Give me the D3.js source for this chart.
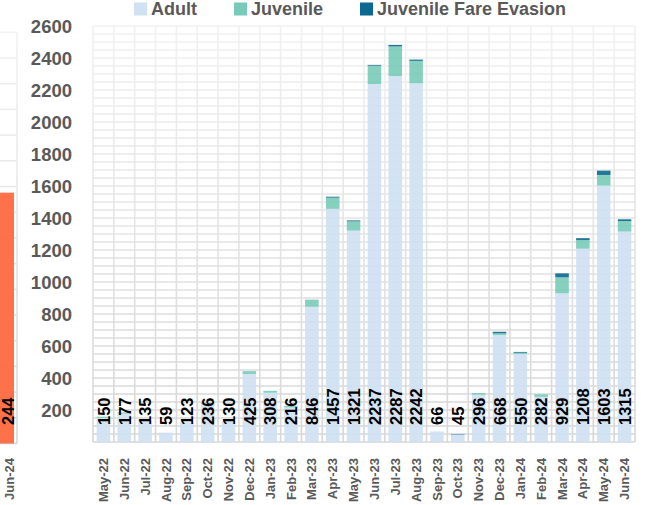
<!DOCTYPE html>
<html><head><meta charset="utf-8">
<script src="https://cdn.jsdelivr.net/npm/d3@7"></script>
<style>
html,body{margin:0;padding:0;background:#fff;}
svg{display:block;font-family:"Liberation Sans",Arial,sans-serif;}
</style></head>
<body>
<svg id="chart" width="646" height="505"></svg>
<script>
// ---- data ----
const categories = ["May-22","Jun-22","Jul-22","Aug-22","Sep-22","Oct-22","Nov-22","Dec-22","Jan-23","Feb-23","Mar-23","Apr-23","May-23","Jun-23","Jul-23","Aug-23","Sep-23","Oct-23","Nov-23","Dec-23","Jan-24","Feb-24","Mar-24","Apr-24","May-24","Jun-24"];
const adult = [150,177,135,59,123,236,130,425,308,216,846,1457,1321,2237,2287,2242,66,45,296,668,550,282,929,1208,1603,1315];
const juvenile = [8,8,0,0,0,10,0,18,12,10,44,70,58,115,185,140,0,3,10,11,8,16,100,54,66,66];
const fareEvasion = [0,0,0,0,0,0,0,0,0,0,0,6,6,5,10,8,0,2,0,10,5,0,25,12,27,11];
const seriesNames = ["Adult","Juvenile","Juvenile Fare Evasion"];
const yTickValues = [200,400,600,800,1000,1200,1400,1600,1800,2000,2200,2400,2600];
// partial neighbouring chart at left edge
const leftCategories = ["Jun-24"];
const leftValues = [244];

// ---- styles ----
const colors = ["#cfe1f2","#79cbb9","#0b6890"];
const svg = d3.select("#chart");

const rows = categories.map((c,i)=>({cat:c, "Adult":adult[i], "Juvenile":juvenile[i], "Juvenile Fare Evasion":fareEvasion[i]}));

const x = d3.scaleBand().domain(categories).range([93,635]).paddingInner(0.35).paddingOuter(0.175);
const y = d3.scaleLinear().domain([0,2600]).range([442,26]);
const gridColor = d3.scaleLinear().domain([26,442]).range(["#f1f1f1","#d6d6d6"]);

// gradient for vertical grid lines
const defs = svg.append("defs");
const grad = defs.append("linearGradient").attr("id","vg").attr("gradientUnits","userSpaceOnUse")
  .attr("x1",0).attr("y1",26).attr("x2",0).attr("y2",442);
grad.append("stop").attr("offset","0").attr("stop-color","#f1f1f1");
grad.append("stop").attr("offset","1").attr("stop-color","#d6d6d6");

// ---- left partial chart ----
const yl = d3.scaleLinear().domain([0,400]).range([443.5,32.3]);
const gl = svg.append("g");
gl.selectAll("line.h").data(d3.range(0,401,25)).join("line")
  .attr("x1",0).attr("x2",17).attr("y1",d=>yl(d)).attr("y2",d=>yl(d))
  .attr("stroke",d=>gridColor(yl(d))).attr("stroke-width",1.5);
gl.append("line").attr("x1",17).attr("x2",17).attr("y1",yl(400)).attr("y2",yl(0))
  .attr("stroke","url(#vg)").attr("stroke-width",1.5);
gl.selectAll("rect").data(leftValues).join("rect")
  .attr("x",-6).attr("width",20).attr("y",d=>yl(d)).attr("height",d=>yl(0)-yl(d))
  .attr("fill","#ff6a3f").attr("opacity",0.95);
gl.selectAll("text.v").data(leftValues).join("text")
  .attr("transform",d=>`translate(8,425) rotate(-90)`)
  .attr("dy","0.35em").attr("text-anchor","start")
  .attr("font-size",16.5).attr("font-weight","bold").attr("fill","#000").text(d=>d);
gl.selectAll("text.c").data(leftCategories).join("text")
  .attr("transform",`translate(9,458) rotate(-90)`)
  .attr("dy","0.35em").attr("text-anchor","end")
  .attr("font-size",13).attr("font-weight","bold").attr("fill","#595959").text(d=>d);

// ---- main grid ----
const step = x.step();
const gx0 = x.range()[0];
const vlines = d3.range(categories.length+1).map(i=>gx0+i*step);
const grid = svg.append("g");
grid.selectAll("line.h").data(d3.range(0,2601,50)).join("line")
  .attr("x1",x.range()[0]).attr("x2",x.range()[1])
  .attr("y1",d=>y(d)).attr("y2",d=>y(d))
  .attr("stroke",d=>gridColor(y(d))).attr("stroke-width",1.6);
grid.selectAll("line.v").data(vlines).join("line")
  .attr("x1",d=>d).attr("x2",d=>d).attr("y1",y(2600)).attr("y2",y(0))
  .attr("stroke","url(#vg)").attr("stroke-width",1.6);

// ---- stacked bars ----
const stacked = d3.stack().keys(seriesNames)(rows);
svg.append("g").selectAll("g").data(stacked).join("g")
  .attr("fill",(d,i)=>colors[i]).attr("opacity",0.9)
  .selectAll("rect").data(d=>d).join("rect")
  .attr("x",d=>x(d.data.cat)).attr("width",x.bandwidth())
  .attr("y",d=>y(d[1])).attr("height",d=>Math.max(0,y(d[0])-y(d[1])));

// ---- data labels (Adult) ----
svg.append("g").selectAll("text").data(rows).join("text")
  .attr("transform",d=>`translate(${x(d.cat)+x.bandwidth()/2+0.5},425) rotate(-90)`)
  .attr("dy","0.35em").attr("text-anchor","start")
  .attr("font-size",16.5).attr("font-weight","bold").attr("fill","#000")
  .text(d=>d["Adult"]);

// ---- y axis ----
const ya = svg.append("g").attr("transform","translate(72,0)")
  .call(d3.axisLeft(y).tickValues(yTickValues).tickFormat(d3.format("d")).tickSize(0).tickPadding(0));
ya.select(".domain").remove();
ya.selectAll("text").attr("font-family","'Liberation Sans',Arial,sans-serif")
  .attr("font-size",18.5).attr("font-weight","bold").attr("fill","#595959").attr("dy","0.36em");

// ---- x axis ----
const xa = svg.append("g").attr("transform","translate(0,458)")
  .call(d3.axisBottom(x).tickSize(0).tickPadding(0));
xa.select(".domain").remove();
xa.selectAll("text").attr("font-family","'Liberation Sans',Arial,sans-serif")
  .attr("font-size",13).attr("font-weight","bold").attr("fill","#595959")
  .attr("x",0).attr("y",0).attr("dy","0.35em")
  .attr("transform","rotate(-90)").attr("text-anchor","end");

// ---- legend ----
const legX = [134,234,360];
const lg = svg.append("g").selectAll("g").data(seriesNames).join("g")
  .attr("transform",(d,i)=>`translate(${legX[i]},0)`);
lg.append("rect").attr("x",0).attr("y",2.5).attr("width",13).attr("height",13)
  .attr("fill",(d,i)=>colors[i]);
lg.append("text").attr("x",17).attr("y",14.5)
  .attr("font-size",18).attr("font-weight","bold").attr("fill","#595959").text(d=>d);
</script>
</body></html>
